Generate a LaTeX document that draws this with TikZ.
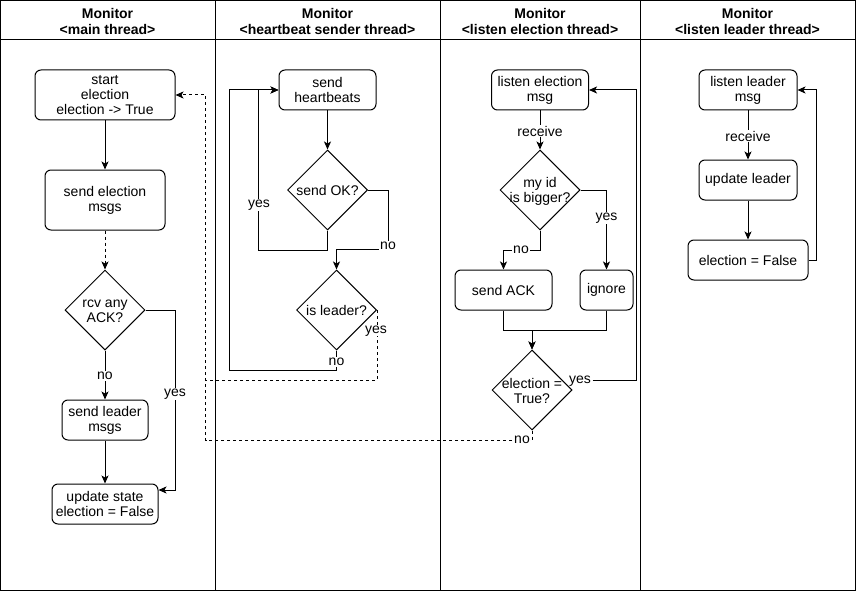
\documentclass[tikz,border=0pt]{standalone}
\usepackage{fontspec}
\setmainfont{Liberation Sans}
\usetikzlibrary{shapes.geometric,arrows.meta}
\begin{document}
\begin{tikzpicture}[x=1pt,y=-1pt,
  font=\fontsize{14}{15}\selectfont,
  lane/.style={draw,line width=1pt},
  proc/.style={draw,rounded corners=6pt,align=center,inner sep=0pt,line width=1pt},
  decide/.style={draw,diamond,minimum width=80pt,minimum height=80pt,inner sep=0pt,line width=1pt},
  dtext/.style={align=center,inner sep=0pt},
  flow/.style={line width=1pt,-{Stealth[length=8pt,width=7pt,inset=2pt]}},
  link/.style={line width=1pt},
  ret/.style={dash pattern=on 3pt off 3pt},
  lbl/.style={fill=white,inner sep=1pt},
  hdr/.style={font=\fontsize{14}{16}\selectfont\bfseries,align=center}
]
\useasboundingbox (0,0) rectangle (856,591);

% swimlanes
\draw[lane] (0.5,0.5) rectangle (855.5,590.5);
\draw[lane] (0.5,40) -- (855.5,40);
\draw[lane] (215,0.5) -- (215,590.5);
\draw[lane] (440,0.5) -- (440,590.5);
\draw[lane] (640,0.5) -- (640,590.5);
\node[hdr] (h1) at (107.5,21) {Monitor\\<main thread>};
\node[hdr] (h2) at (327.5,21) {Monitor\\<heartbeat sender thread>};
\node[hdr] (h3) at (540,21) {Monitor\\<listen election thread>};
\node[hdr] (h4) at (747.5,21) {Monitor\\<listen leader thread>};

% main thread
\node[proc,minimum width=140pt,minimum height=50pt] (start) at (105,95) {start\\election\\election -> True};
\node[proc,minimum width=120pt,minimum height=60pt] (sendel) at (105,200) {send election\\msgs};
\node[decide] (ack) at (105,310) {};
\node[dtext] (ackt) at (105,311) {rcv any\\ACK?};
\node[proc,minimum width=86pt,minimum height=40pt] (sendlead) at (105,420) {send leader\\msgs};
\node[proc,minimum width=106pt,minimum height=40pt] (upd) at (105,504) {update state\\election = False};

% heartbeat sender thread
\node[proc,minimum width=97pt,minimum height=40pt] (hb) at (327.5,90) {send\\heartbeats};
\node[decide] (ok) at (327.5,190) {};
\node[dtext] (okt) at (327.5,190) {send OK?};
\node[decide] (lead) at (336.5,310) {};
\node[dtext] (leadt) at (336.5,310) {is leader?};

% listen election thread
\node[proc,minimum width=97pt,minimum height=40pt] (lel) at (540,90) {listen election\\msg};
\node[decide] (big) at (540,190) {};
\node[dtext] (bigt) at (540,191) {my id\\is bigger?};
\node[proc,minimum width=97pt,minimum height=40pt] (sendack) at (503.5,290) {send ACK};
\node[proc,minimum width=53pt,minimum height=40pt] (ign) at (606.5,290) {ignore};
\node[decide] (etrue) at (532,390) {};
\node[dtext] (etruet) at (532,391) {election =\\True?};

% listen leader thread
\node[proc,minimum width=98pt,minimum height=40pt] (llm) at (748,90) {listen leader\\msg};
\node[proc,minimum width=98pt,minimum height=40pt] (ul) at (748,180) {update leader};
\node[proc,minimum width=120pt,minimum height=40pt] (ef) at (748,260) {election = False};

% connectors: main thread
\draw[flow] (start) -- (sendel);
\draw[flow,ret] (sendel) -- (ack);
\draw[flow] (ack) -- (sendlead);
\draw[flow] (ack.east) -- ++(30,0) |- ([yshift=14pt]upd.east);
\draw[flow] (sendlead) -- (upd);

% connectors: heartbeat sender thread
\draw[flow] (hb) -- (ok);
\draw[flow] (ok.south) -- ++(0,20) -| ([xshift=-20pt]hb.west) -- (hb.west);
\draw[flow] (ok.east) -- ++(20.5,0) |- ([yshift=20pt]lead.north) -- (lead.north);
\draw[flow] (lead.south) -- ++(0,20) -| ([xshift=-49pt]hb.west) -- (hb.west);
\draw[link,ret] (lead.east) -- ++(0,70) -- ++(-171.5,0);

% connectors: listen election thread
\draw[flow] (lel) -- (big);
\draw[flow] (big.south) -- ++(0,20) -| (sendack.north);
\draw[flow] (big.east) -| (ign.north);
\draw[flow] (sendack.south) -- ++(0,20) -| (etrue.north);
\draw[flow] (ign.south) -- ++(0,20) -| (etrue.north);
\draw[flow] ([xshift=20pt,yshift=10pt]etrue.east) -- ++(44,0) |- (lel.east);
\draw[flow,ret] (etrue.south) -- ++(0,10) -| ([xshift=30pt]start.east) -- (start.east);

% connectors: listen leader thread
\draw[flow] (llm) -- (ul);
\draw[flow] (ul) -- (ef);
\draw[flow] (ef.east) -- ++(8,0) |- (llm.east);

% connector labels
\node[lbl] (l1) at (105,376) {no};
\node[lbl] (l2) at (175,394) {yes};
\node[lbl] (l3) at (259,205) {yes};
\node[lbl] (l4) at (388,246) {no};
\node[lbl,inner sep=0pt] (l5) at (376,331) {yes};
\node[lbl] (l6) at (336.5,362) {no};
\node[lbl] (l7) at (540,131) {receive};
\node[lbl] (l8) at (521,250) {no};
\node[lbl] (l9) at (606.5,218) {yes};
\node[inner sep=0pt] (l10) at (580,381) {yes};
\node[lbl,inner sep=0pt] (l11) at (522,440) {no};
\node[lbl] (l12) at (748,136) {receive};
\end{tikzpicture}
\end{document}
